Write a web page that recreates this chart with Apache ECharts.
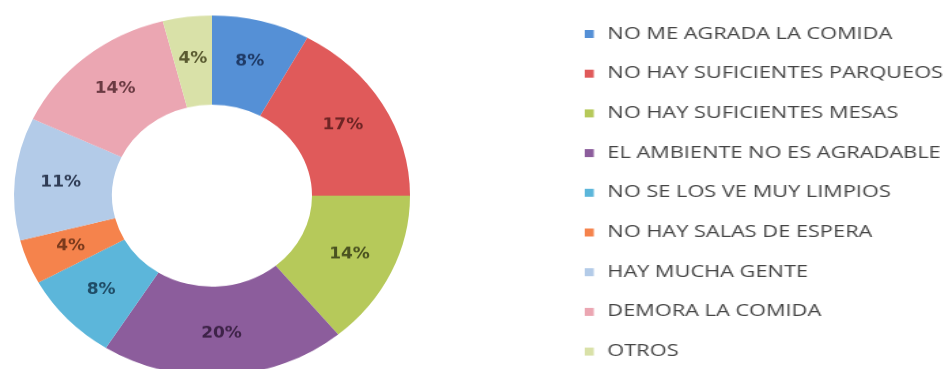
<!DOCTYPE html>
<html>
<head>
<meta charset="utf-8">
<script src="https://cdn.jsdelivr.net/npm/echarts@6/dist/echarts.min.js"></script>
<style>
  html, body { margin: 0; padding: 0; background: #ffffff; overflow: hidden; }
  #wrap { width: 950px; height: 369px; overflow: hidden; position: relative; background: #ffffff; }
  /* the donut is drawn slightly flattened */
  #ring { position: absolute; left: 0; top: 0; width: 950px; height: 406px; transform: scaleY(0.91); transform-origin: 0 0; }
  /* the key uses wide lettering */
  #key { position: absolute; left: 0; top: 0; width: 700px; height: 440px; transform: scaleX(1.36); transform-origin: 0 0; }
</style>
</head>
<body>
<div id="wrap"><div id="ring"></div><div id="key"></div></div>
<script>
// Reasons given, in order round the ring
const categories = [
  'NO ME AGRADA LA COMIDA',
  'NO HAY SUFICIENTES PARQUEOS',
  'NO HAY SUFICIENTES MESAS',
  'EL AMBIENTE NO ES AGRADABLE',
  'NO SE LOS VE MUY LIMPIOS',
  'NO HAY SALAS DE ESPERA',
  'HAY MUCHA GENTE',
  'DEMORA LA COMIDA',
  'OTROS'
];
// Share of answers, percent
const percentages = [8, 17, 14, 20, 8, 4, 11, 14, 4];

const sliceColors = ['#5590d6', '#e05a5a', '#b6c95a', '#8c5d9c', '#5cb6da', '#f5834c', '#b3cbe8', '#eba6b2', '#d9e1a8'];
const labelColors = ['#1f3a66', '#6e2424', '#4a5220', '#3e2348', '#1f4c66', '#7a3a1c', '#2f3c55', '#6a3a42', '#5a5a30'];

const seriesData = categories.map((name, i) => ({
  name: name,
  value: percentages[i],
  itemStyle: { color: sliceColors[i] },
  label: { color: labelColors[i] }
}));

// Donut with percentage labels
const ring = echarts.init(document.getElementById('ring'), null, { renderer: 'canvas' });
ring.setOption({
  animation: false,
  series: [{
    type: 'pie',
    center: [212, 215],
    radius: [100, 198],
    startAngle: 90,
    clockwise: true,
    avoidLabelOverlap: false,
    itemStyle: { borderWidth: 0 },
    label: {
      show: true,
      position: 'inside',
      formatter: p => p.value + '%',
      fontFamily: 'DejaVu Sans',
      fontWeight: 'bold',
      fontSize: 17
    },
    labelLine: { show: false },
    emphasis: { disabled: true },
    data: seriesData
  }]
});

// Key: same series, ring itself not drawn here (zero radius), only the legend shows
const key = echarts.init(document.getElementById('key'), null, { renderer: 'canvas' });
key.setOption({
  animation: false,
  legend: {
    orient: 'vertical',
    left: 425,
    top: 19,
    padding: [5, 5, 5, 5],
    itemWidth: 6.6,
    itemHeight: 8,
    itemGap: 19.7,
    icon: 'rect',
    selectedMode: false,
    data: categories,
    textStyle: {
      fontFamily: 'Open Sans',
      fontSize: 16,
      lineHeight: 20,
      color: '#454545',
      padding: [0, 0, 0, 5]
    }
  },
  series: [{
    type: 'pie',
    center: [-100, -100],
    radius: [0, 0],
    silent: true,
    label: { show: false },
    labelLine: { show: false },
    data: seriesData
  }]
});
</script>
</body>
</html>
